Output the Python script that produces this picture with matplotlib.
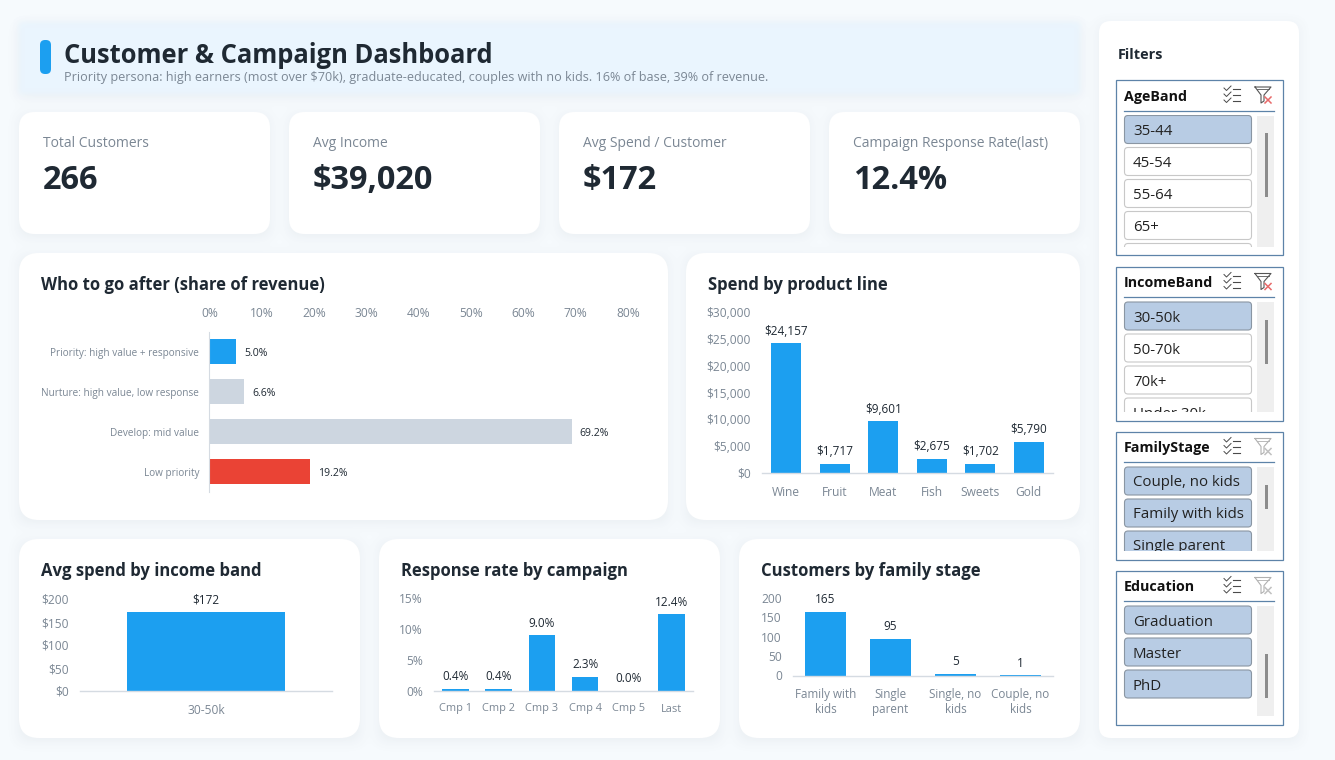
import matplotlib
matplotlib.use('Agg')
import matplotlib.pyplot as plt
import numpy as np
from matplotlib.patches import FancyBboxPatch, Rectangle

# Canvas size in pixels
W, H = 1335, 760
DPI = 100

FONT = 'Open Sans'
BLUE = '#1c9ff0'
GREY_BAR = '#cdd6e0'
RED = '#ea4335'
INK = '#1f2933'
MUTED = '#7b8794'
AXIS = '#d5dbe2'
FRAME = '#5d83a8'
SELECTED = '#b8cce4'

plt.rcParams['font.family'] = [FONT, 'DejaVu Sans']

# Header
title_text = 'Customer & Campaign Dashboard'
subtitle_text = ('Priority persona: high earners (most over $70k), graduate-educated, '
                 'couples with no kids. 16% of base, 39% of revenue.')

# KPI cards
kpi_labels = ['Total Customers', 'Avg Income', 'Avg Spend / Customer', 'Campaign Response Rate(last)']
kpi_values = ['266', '$39,020', '$172', '12.4%']

# Who to go after
segments = ['Priority: high value + responsive', 'Nurture: high value, low response',
            'Develop: mid value', 'Low priority']
segment_share = [5.0, 6.6, 69.2, 19.2]
segment_colors = [BLUE, GREY_BAR, GREY_BAR, RED]

# Spend by product line
products = ['Wine', 'Fruit', 'Meat', 'Fish', 'Sweets', 'Gold']
product_spend = [24157, 1717, 9601, 2675, 1702, 5790]

# Avg spend by income band
income_bands = ['30-50k']
income_spend = [172]

# Response rate by campaign
campaigns = ['Cmp 1', 'Cmp 2', 'Cmp 3', 'Cmp 4', 'Cmp 5', 'Last']
campaign_rate = [0.4, 0.4, 9.0, 2.3, 0.0, 12.4]

# Customers by family stage
stages = ['Family with\nkids', 'Single\nparent', 'Single, no\nkids', 'Couple, no\nkids']
stage_counts = [165, 95, 5, 1]

# Slicer contents
age_items = ['35-44', '45-54', '55-64', '65+', '']
income_items = ['30-50k', '50-70k', '70k+', 'Under 30k']
family_items = ['Couple, no kids', 'Family with kids', 'Single parent']
education_items = ['Graduation', 'Master', 'PhD']

# Card outlines: left, top, right, bottom in pixels
header_box = (19, 22, 1080, 94)
kpi_boxes = [(19 + i * 270, 112, 270 + i * 270, 234) for i in range(4)]
chart_boxes = [(19, 253, 668, 520), (686, 253, 1080, 520),
               (19, 539, 360, 738), (379, 539, 720, 738), (739, 539, 1080, 738)]
chart_titles = ['Who to go after (share of revenue)', 'Spend by product line',
                'Avg spend by income band', 'Response rate by campaign',
                'Customers by family stage']
filter_box = (1099, 21, 1299, 738)


def fs(px):
    """Font size in points for a size given in pixels"""
    return px * 72 / DPI


def px_axes(fig, left, top, right, bottom):
    """Axes placed by pixel edges, measured from the top left"""
    ax = fig.add_axes([left / W, 1 - bottom / H, (right - left) / W, (bottom - top) / H])
    ax.patch.set_alpha(0)
    return ax


def round_box(ax, x0, y0, x1, y1, r, **kwargs):
    box = FancyBboxPatch((x0, y0), x1 - x0, y1 - y0,
                         boxstyle=f'round,pad=0,rounding_size={r}', **kwargs)
    ax.add_patch(box)
    return box


def blurred_mask(boxes, radius, passes=3, shift=0):
    """Box-blurred coverage map of the given rectangles"""
    mask = np.zeros((H, W))
    for x0, y0, x1, y1 in boxes:
        mask[y0 + shift:y1 + shift, x0:x1] = 1.0
    kernel = np.ones(2 * radius + 1) / (2 * radius + 1)
    for _ in range(passes):
        mask = np.apply_along_axis(np.convolve, 0, mask, kernel, mode='same')
        mask = np.apply_along_axis(np.convolve, 1, mask, kernel, mode='same')
    return mask


def overlay(ax, mask, color, zorder):
    rgba = np.zeros((H, W, 4))
    rgba[..., :3] = matplotlib.colors.to_rgb(color)
    rgba[..., 3] = mask
    ax.imshow(rgba, extent=(0, W, H, 0), aspect='auto', interpolation='nearest', zorder=zorder)


def style_value_axes(ax, ticks, labels):
    for name in ['top', 'right', 'left']:
        ax.spines[name].set_visible(False)
    ax.spines['bottom'].set_color(AXIS)
    ax.spines['bottom'].set_linewidth(1)
    ax.set_yticks(ticks, labels)
    ax.tick_params(axis='both', length=0, labelcolor=MUTED, labelsize=fs(12))


def column_chart(fig, bounds, cats, values, ymax, ticks, tick_labels, fmt, width=0.63, cat_size=12):
    ax = px_axes(fig, *bounds)
    xs = list(range(len(cats)))
    bars = ax.bar(xs, values, width=width, color=BLUE)
    ax.set_xlim(-0.5, len(cats) - 0.5)
    ax.set_ylim(0, ymax)
    ax.set_xticks(xs, cats)
    style_value_axes(ax, ticks, tick_labels)
    ax.tick_params(axis='x', pad=9, labelsize=fs(cat_size))
    ax.tick_params(axis='y', pad=8)
    ax.bar_label(bars, labels=[fmt(v) for v in values], padding=4, fontsize=fs(11.8), color=INK)
    return ax


def draw_checklist_icon(ax, cx, cy, color='#4a4a4a'):
    for dy in (-6, 0, 6):
        ax.plot([cx - 8, cx - 5.5, cx - 1], [cy + dy - 1, cy + dy + 1.5, cy + dy - 3], color=color, lw=0.7)
        ax.plot([cx + 1, cx + 8], [cy + dy, cy + dy], color=color, lw=0.8)


def draw_filter_icon(ax, cx, cy, active):
    line = '#555555' if active else '#b0b0b0'
    cross = '#e86a6a' if active else '#c0c0c0'
    ax.plot([cx - 8, cx + 8, cx + 1, cx + 1, cx - 2, cx - 2, cx - 8],
            [cy - 8, cy - 8, cy, cy + 6, cy + 8, cy, cy - 8], color=line, lw=0.8)
    ax.plot([cx - 6, cx + 6], [cy - 6, cy - 6], color=line, lw=0.6)
    ax.plot([cx + 2, cx + 8], [cy + 2, cy + 8], color=cross, lw=1.1)
    ax.plot([cx + 2, cx + 8], [cy + 8, cy + 2], color=cross, lw=1.1)


def slicer(ax, name, items, selected, active, top, bottom, list_bottom, thumb):
    x0, x1 = 1115.5, 1282.5
    ax.add_patch(Rectangle((x0, top), x1 - x0, bottom - top, fc='white', ec=FRAME, lw=0.9))
    ax.text(1124, top + 20.5, name, fontsize=fs(14.3), fontweight='bold', color='#111', va='baseline')
    draw_checklist_icon(ax, 1232, top + 15)
    draw_filter_icon(ax, 1263, top + 15, active)
    ax.plot([1124, 1274], [top + 30.5, top + 30.5], color=FRAME, lw=0.9)
    list_top = top + 35.5
    ax.add_patch(Rectangle((1257, list_top), 17, list_bottom - list_top, fc='#efefef', ec='none'))
    ax.add_patch(Rectangle((1264.5, thumb[0]), 3, thumb[1] - thumb[0], fc='#8c8c8c', ec='none'))
    clip = Rectangle((1120, list_top - 1), 135, list_bottom - list_top + 1, transform=ax.transData)
    for i, item in enumerate(items):
        y = list_top + i * 32
        picked = item in selected
        box = round_box(ax, 1124.5, y, 1251.5, y + 28, 3.5,
                        fc=SELECTED if picked else 'white',
                        ec='#8a96a3' if picked else '#c8c8c8', lw=0.8)
        box.set_clip_path(clip)
        label = ax.text(1133, y + 19.5, item, fontsize=fs(15), color='#222', va='baseline', clip_on=True)
        label.set_clip_path(clip)


fig = plt.figure(figsize=(W / DPI, H / DPI), dpi=DPI, facecolor='#f6fafd')

base = fig.add_axes([0, 0, 1, 1])

# Soft shadow under every card, then the feathered header band
all_boxes = [header_box] + kpi_boxes + chart_boxes + [filter_box]
overlay(base, 0.075 * blurred_mask(all_boxes, 6, shift=3), '#50606f', 0)
overlay(base, blurred_mask([header_box], 2), '#eaf5fe', 1)
base.set_xlim(0, W)
base.set_ylim(H, 0)
base.axis('off')

# Header band content
round_box(base, 40, 40, 51, 74, 5, fc=BLUE, ec='none', zorder=2)
base.text(64, 63, title_text, fontsize=fs(25.5), fontweight='bold', color=INK, va='baseline', zorder=3)
base.text(64, 81, subtitle_text, fontsize=fs(12.6), color=MUTED, va='baseline', zorder=3)

# KPI row
for box, label, value in zip(kpi_boxes, kpi_labels, kpi_values):
    x0, y0, x1, y1 = box
    round_box(base, x0, y0, x1, y1, 16, fc='white', ec='none', zorder=2)
    base.text(x0 + 24, 147, label, fontsize=fs(13.9), color=MUTED, va='baseline', zorder=3)
    base.text(x0 + 24, 189, value, fontsize=fs(32.5), fontweight='bold', color=INK, va='baseline', zorder=3)

# Chart cards and their titles
for box, name in zip(chart_boxes, chart_titles):
    x0, y0, x1, y1 = box
    round_box(base, x0, y0, x1, y1, 20, fc='white', ec='none', zorder=2)
    base.text(x0 + 22, y0 + 36.5, name, fontsize=fs(16.6), fontweight='bold', color=INK,
              va='baseline', zorder=3)

# Who to go after: horizontal bars with the scale on top
ax = px_axes(fig, 209.5, 331.5, 628, 491.5)
ypos = list(range(len(segments)))
bars = ax.barh(ypos, segment_share, height=0.625, color=segment_colors)
ax.set_xlim(0, 80)
ax.set_ylim(len(segments) - 0.5, -0.5)
ax.set_yticks(ypos, segments)
ax.set_xticks(range(0, 81, 10), [f'{v}%' for v in range(0, 81, 10)])
ax.xaxis.tick_top()
for name in ['top', 'right', 'bottom']:
    ax.spines[name].set_visible(False)
ax.spines['left'].set_color(AXIS)
ax.tick_params(axis='both', length=0, labelcolor=MUTED)
ax.tick_params(axis='x', labelsize=fs(12), pad=8)
ax.tick_params(axis='y', labelsize=fs(10), pad=7.5)
share_labels = ax.bar_label(bars, labels=[f'{v:.1f}%' for v in segment_share], padding=6,
                            fontsize=fs(10.5), color=INK)
for t in share_labels:
    t.xyann = (t.xyann[0], -1.5)

# Spend by product line
column_chart(fig, (762, 312, 1053, 473), products, product_spend, 30000,
             range(0, 30001, 5000), [f'${v:,}' for v in range(0, 30001, 5000)],
             lambda v: f'${v:,}', width=0.62)

# Avg spend by income band
column_chart(fig, (80, 599, 332, 691), income_bands, income_spend, 200,
             range(0, 201, 50), [f'${v}' for v in range(0, 201, 50)],
             lambda v: f'${v}', width=0.627)

# Response rate by campaign
column_chart(fig, (434, 598, 693, 691), campaigns, campaign_rate, 15,
             [0, 5, 10, 15], ['0%', '5%', '10%', '15%'],
             lambda v: f'{v:.1f}%', width=0.62, cat_size=11)

# Customers by family stage
column_chart(fig, (793, 598, 1053, 675.5), stages, stage_counts, 200,
             range(0, 201, 50), [str(v) for v in range(0, 201, 50)],
             str, width=0.62, cat_size=11.6)

# Filters panel
x0, y0, x1, y1 = filter_box
round_box(base, x0, y0, x1, y1, 12, fc='white', ec='none', zorder=2)
panel = fig.add_axes([0, 0, 1, 1])
panel.patch.set_alpha(0)
panel.set_xlim(0, W)
panel.set_ylim(H, 0)
panel.axis('off')
panel.text(1118, 59, 'Filters', fontsize=fs(14.5), fontweight='bold', color=INK, va='baseline')
slicer(panel, 'AgeBand', age_items, ['35-44'], True, 80, 255, 247, (133, 197))
slicer(panel, 'IncomeBand', income_items, ['30-50k'], True, 266.5, 420.5, 412, (320, 364))
slicer(panel, 'FamilyStage', family_items, family_items, False, 431.5, 559.5, 551, (485, 509))
slicer(panel, 'Education', education_items, education_items, False, 570.5, 724.5, 716, (654, 698))

fig.savefig('out.png', dpi=DPI, facecolor=fig.get_facecolor())
